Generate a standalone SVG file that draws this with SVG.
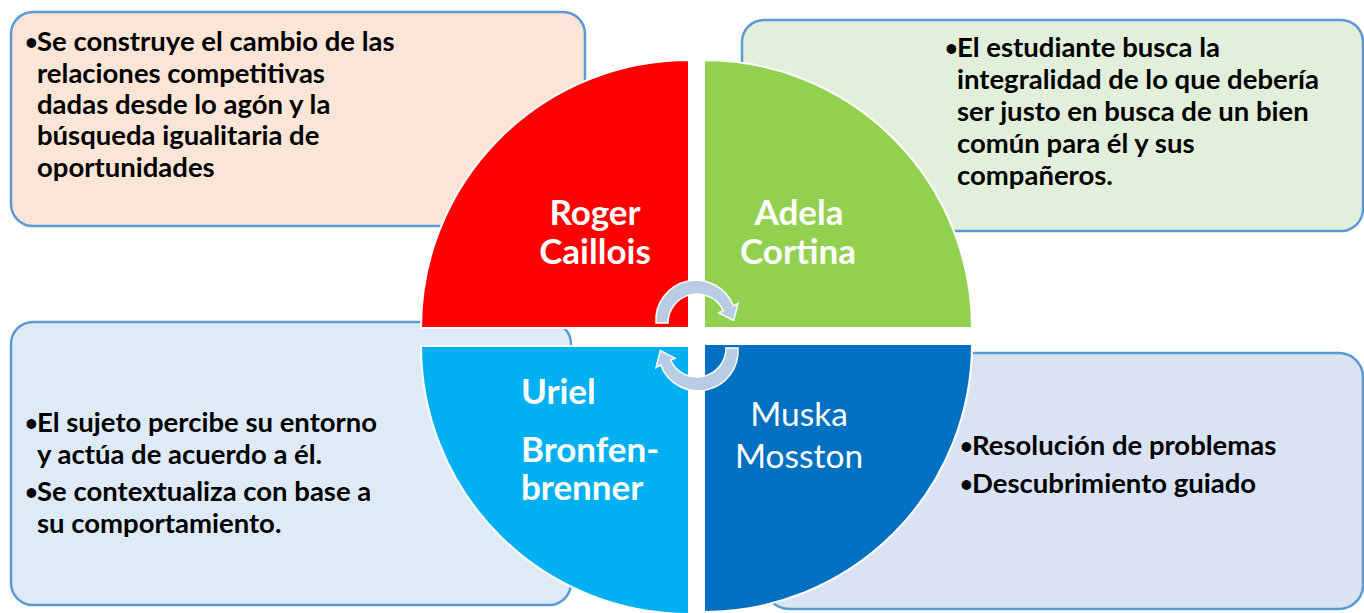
<svg xmlns="http://www.w3.org/2000/svg" width="1364" height="613" viewBox="0 0 1364 613">
<defs>
<style>
.box{stroke:#5b9bd5;stroke-width:2.5}
.q{stroke:#ffffff;stroke-width:2}
.body{font-family:Lato,"Liberation Sans",sans-serif;font-weight:bold;font-size:27.5px;fill:#000}
.bul{font-size:22px}
.lab{font-family:Lato,"Liberation Sans",sans-serif;font-weight:bold;font-size:35px;fill:#fff}
.labr{font-family:Lato,"Liberation Sans",sans-serif;font-weight:normal;font-size:33.5px;fill:#fff}
.arr{fill:#b8cce4;stroke:#ffffff;stroke-width:1.5}
</style>
</defs>
<rect width="1364" height="613" fill="#ffffff"/>
<g id="box-caillois">
<rect class="box" x="11" y="12" width="574" height="214" rx="22" fill="#fbe5d6"/>
<text class="body"><tspan class="bul" x="25" y="50">•</tspan><tspan x="37" y="51">Se construye el cambio de las</tspan><tspan x="37" y="83">relaciones competitivas</tspan><tspan x="37" y="114">dadas desde lo agón y la</tspan><tspan x="37" y="145">búsqueda igualitaria de</tspan><tspan x="37" y="177">oportunidades</tspan></text>
</g>
<g id="box-cortina">
<rect class="box" x="742" y="20" width="621" height="211" rx="22" fill="#e2efda"/>
<text class="body"><tspan class="bul" x="945" y="56">•</tspan><tspan x="957" y="57">El estudiante busca la</tspan><tspan x="957" y="89">integralidad de lo que debería</tspan><tspan x="957" y="121">ser justo en busca de un bien</tspan><tspan x="957" y="153">común para él y sus</tspan><tspan x="957" y="185">compañeros.</tspan></text>
</g>
<g id="box-bronfenbrenner">
<rect class="box" x="11" y="322" width="560" height="283" rx="22" fill="#deebf7"/>
<text class="body"><tspan class="bul" x="25" y="431">•</tspan><tspan x="37" y="432">El sujeto percibe su entorno</tspan><tspan x="37" y="464">y actúa de acuerdo a él.</tspan><tspan class="bul" x="25" y="500">•</tspan><tspan x="37" y="501">Se contextualiza con base a</tspan><tspan x="37" y="533">su comportamiento.</tspan></text>
</g>
<g id="box-mosston">
<rect class="box" x="765" y="353" width="598" height="256" rx="24" fill="#dae3f3"/>
<text class="body"><tspan class="bul" x="960" y="454">•</tspan><tspan x="972" y="455">Resolución de problemas</tspan><tspan class="bul" x="960" y="492">•</tspan><tspan x="972" y="493">Descubrimiento guiado</tspan></text>
</g>
<g id="q-caillois">
<path class="q" d="M689,328 L421,328 A268,268 0 0 1 689,60 Z" fill="#ff0000"/>
<text class="lab" text-anchor="middle"><tspan x="595" y="225">Roger</tspan><tspan x="595" y="264">Caillois</tspan></text>
</g>
<g id="q-cortina">
<path class="q" d="M704,328 L704,60 A268,268 0 0 1 972,328 Z" fill="#92d050"/>
<text class="lab" text-anchor="middle"><tspan x="799" y="225">Adela</tspan><tspan x="798" y="264">Cortina</tspan></text>
</g>
<g id="q-bronfenbrenner">
<path class="q" d="M689,346 L689,614 A268,268 0 0 1 421,346 Z" fill="#00b0f0"/>
<text class="lab"><tspan x="521" y="404">Uriel</tspan><tspan x="521" y="462">Bronfen-</tspan><tspan x="521" y="500">brenner</tspan></text>
</g>
<g id="q-mosston">
<path class="q" d="M704,344 L972,344 A268,268 0 0 1 704,612 Z" fill="#0070c0"/>
<text class="labr" text-anchor="middle"><tspan x="799" y="426">Muska</tspan><tspan x="799" y="468">Mosston</tspan></text>
</g>
<g id="connectors">
<path class="arr" d="M656,323 A40,40 0 0 1 733.3,306 L738,303.5 L733.6,320.5 L718.8,312.8 L723.3,310.7 A29,29 0 0 0 668,323 Z"/>
<path class="arr" transform="rotate(180 697 335.5)" d="M656,323 A40,40 0 0 1 733.3,306 L738,303.5 L733.6,320.5 L718.8,312.8 L723.3,310.7 A29,29 0 0 0 668,323 Z"/>
</g>
</svg>
